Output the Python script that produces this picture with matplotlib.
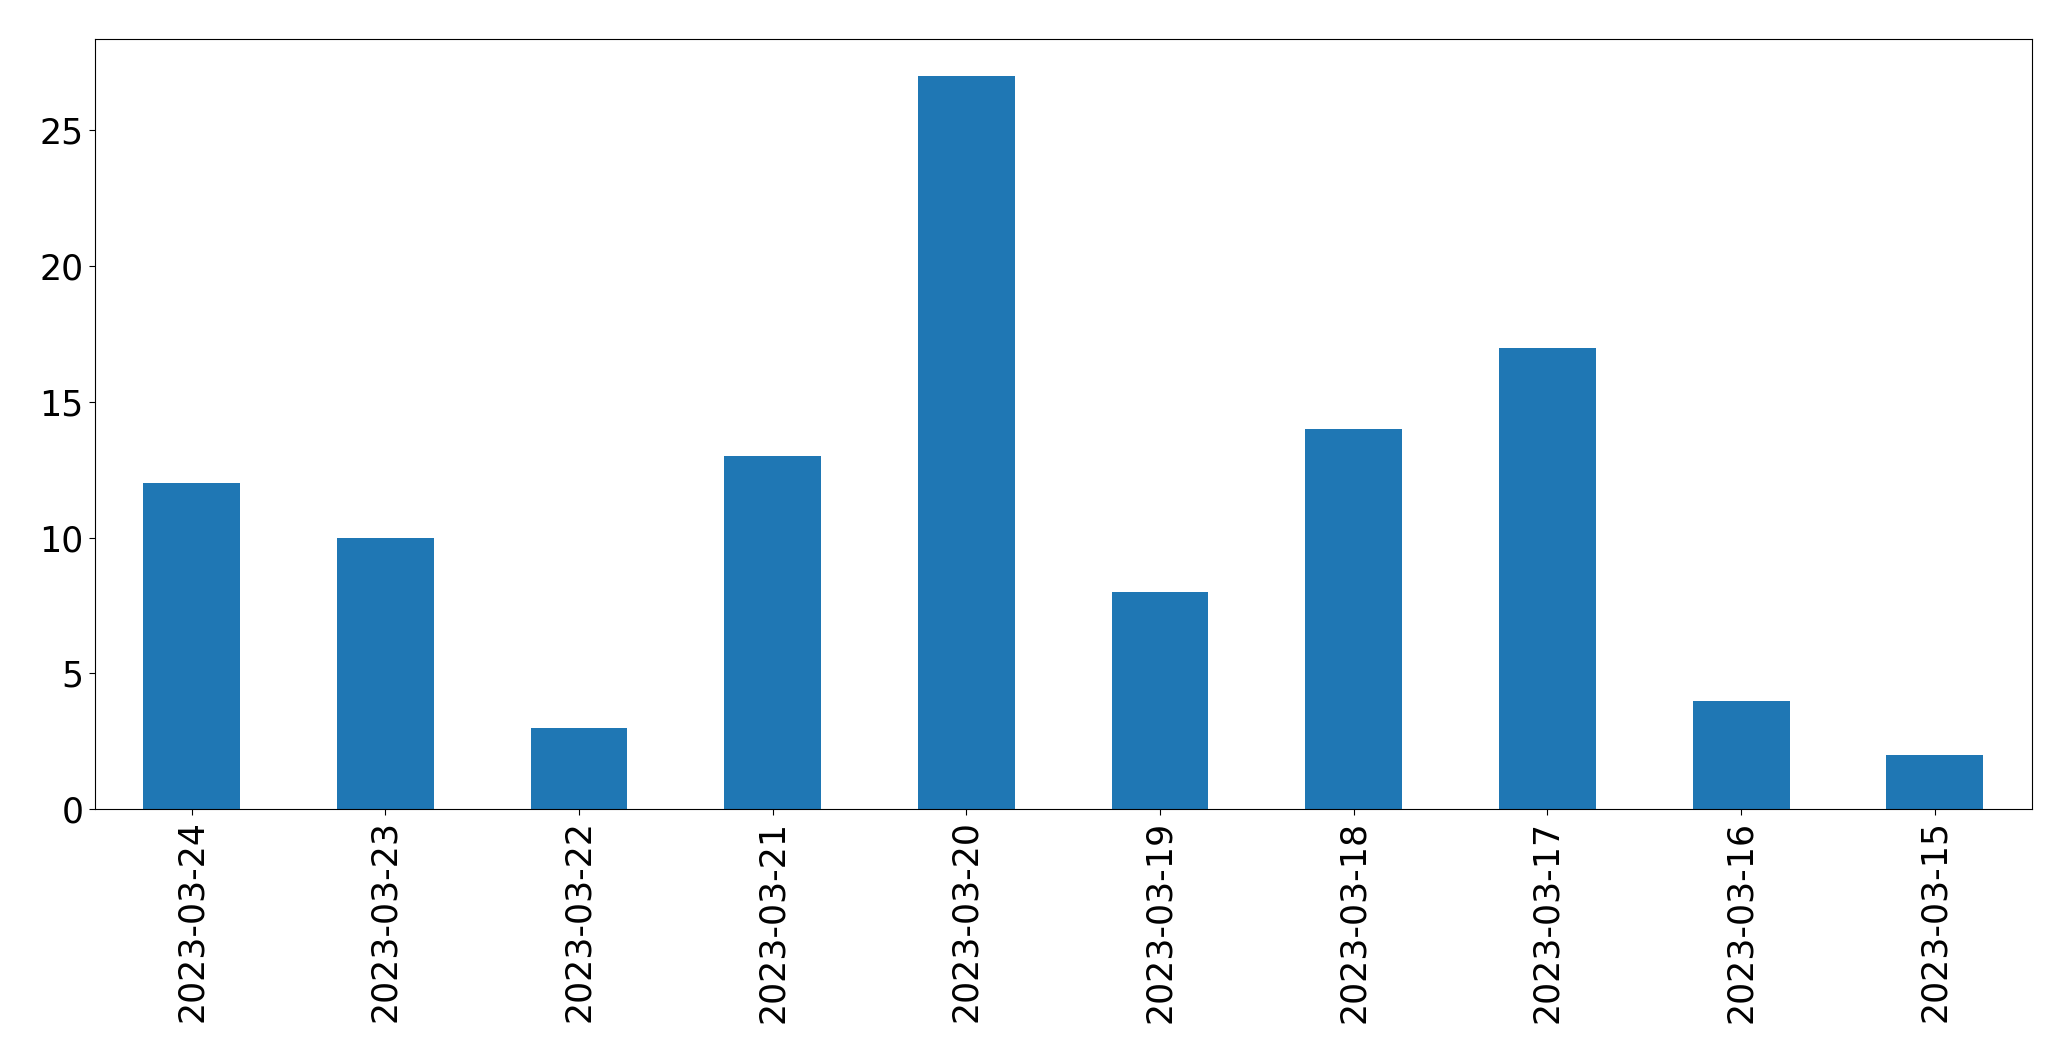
import matplotlib
matplotlib.use('Agg')
import matplotlib.pyplot as plt
import numpy as np

dates = ['2023-03-24', '2023-03-23', '2023-03-22', '2023-03-21', '2023-03-20',
         '2023-03-19', '2023-03-18', '2023-03-17', '2023-03-16', '2023-03-15']
counts = [12, 10, 3, 13, 27, 8, 14, 17, 4, 2]

fig = plt.figure(figsize=(20.71, 10.61), dpi=100)
ax = fig.add_axes([94.7 / 2071, 1 - 809.3 / 1061, 1937 / 2071, 770 / 1061])

x = np.arange(len(dates))
ax.bar(x, counts, width=0.5, color='#1f77b4')
ax.set_xlim(-0.5, len(dates) - 0.5)
ax.set_ylim(0, max(counts) * 1.05)
ax.set_yticks([0, 5, 10, 15, 20, 25])
ax.set_xticks(x)
ax.set_xticklabels(dates, rotation=90)
ax.tick_params(labelsize=25, length=4.5)

fig.savefig('out.png', dpi=100)
